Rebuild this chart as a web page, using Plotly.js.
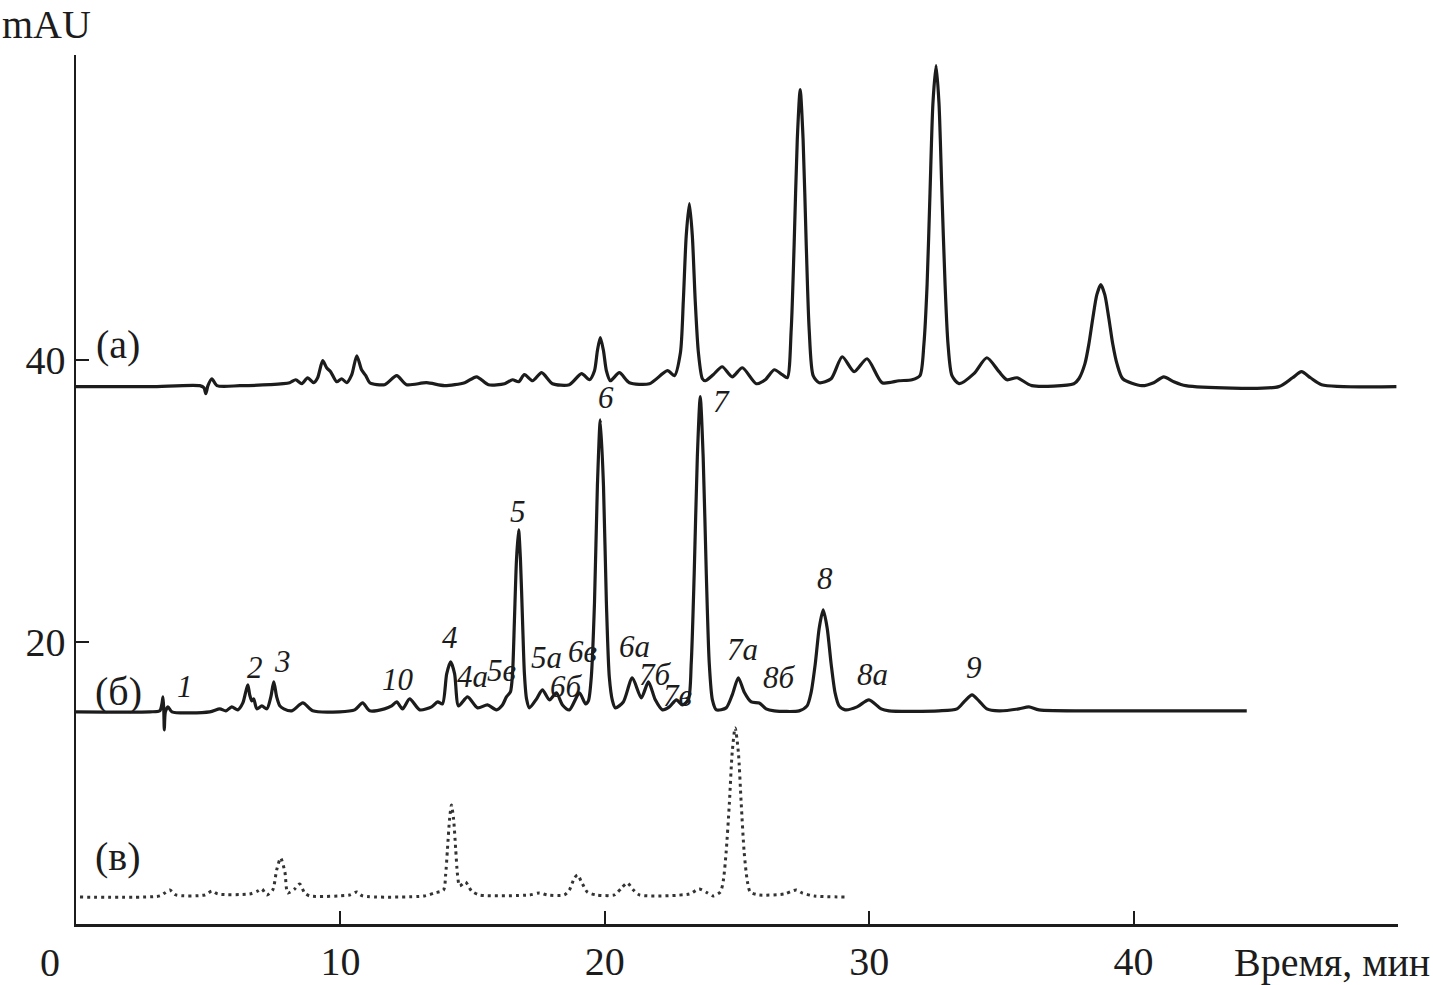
<!DOCTYPE html>
<html>
<head>
<meta charset="utf-8">
<script src="https://cdn.plot.ly/plotly-3.0.1.min.js"></script>
<style>html,body{margin:0;padding:0;background:#fff;}#chart{width:1433px;height:985px;}</style>
</head>
<body>
<div id="chart"></div>
<script>
// Chromatogram (а)
const timeA = [0,2.80,4.68,4.84,4.91,4.99,5.14,5.33,6.20,7.33,8.08,8.31,8.54,8.76,8.99,9.14,9.33,9.48,9.63,9.86,10.05,10.24,10.43,10.62,10.80,10.96,11.11,11.67,12.13,12.50,13.26,13.94,14.70,15.15,15.60,16.21,16.51,16.74,16.96,17.27,17.61,18.02,18.66,19.12,19.42,19.61,19.72,19.83,19.95,20.06,20.21,20.55,20.93,21.69,22.37,22.63,22.86,22.97,23.08,23.20,23.31,23.42,23.54,23.69,23.80,24.10,24.44,24.82,25.20,25.73,26.07,26.41,26.71,26.90,27.05,27.16,27.28,27.39,27.50,27.62,27.73,27.88,28.11,28.56,28.98,29.43,29.92,30.49,31.13,31.62,31.92,32.07,32.19,32.30,32.41,32.53,32.64,32.75,32.87,32.98,33.13,33.40,33.96,34.45,34.91,35.21,35.59,36.15,37.74,37.93,38.16,38.31,38.46,38.61,38.76,38.91,39.06,39.21,39.37,39.59,40.31,40.76,41.14,41.52,41.97,45.49,46.01,46.35,46.69,47.11,49.94];
const mauA  = [38.09,38.09,38.16,38.01,37.59,38.16,38.65,38.16,38.16,38.23,38.37,38.58,38.30,38.72,38.37,38.72,39.93,39.43,39.15,38.44,38.65,38.37,38.94,40.28,39.29,38.87,38.37,38.23,38.87,38.23,38.37,38.16,38.37,38.79,38.23,38.30,38.58,38.44,38.94,38.51,39.08,38.30,38.23,39.01,38.58,39.22,40.64,41.56,40.64,39.22,38.51,39.08,38.37,38.30,39.22,38.87,40.50,44.18,48.79,51.06,48.79,44.18,40.50,38.65,38.51,38.94,39.50,38.79,39.43,38.30,38.58,39.29,38.94,38.72,42.13,48.09,55.60,59.15,55.60,48.09,42.13,38.87,38.37,38.65,40.21,39.15,40.07,38.37,38.51,38.58,38.87,41.13,45.32,51.84,58.16,60.85,58.16,51.84,45.32,41.13,38.87,38.30,39.01,40.14,39.15,38.58,38.72,38.16,38.30,38.65,39.72,41.13,42.98,44.61,45.32,44.61,42.98,41.13,39.72,38.65,38.16,38.37,38.79,38.44,38.16,38.09,38.72,39.15,38.72,38.23,38.09];

// Chromatogram (б)
const timeB = [0,2.80,3.17,3.25,3.29,3.32,3.34,3.38,3.48,3.63,5.06,5.44,5.67,5.89,6.12,6.31,6.42,6.50,6.57,6.65,6.72,6.84,7.03,7.22,7.37,7.48,7.59,7.71,7.86,8.16,8.58,8.95,9.97,10.54,10.84,11.11,11.67,11.94,12.13,12.35,12.62,13.00,13.45,13.68,13.86,14.02,14.17,14.32,14.47,14.81,15.19,15.56,15.90,16.13,16.28,16.43,16.51,16.58,16.66,16.74,16.81,16.89,16.96,17.04,17.15,17.42,17.64,17.91,18.17,18.40,18.66,19.04,19.27,19.38,19.49,19.61,19.72,19.83,19.95,20.06,20.17,20.29,20.40,20.70,21.04,21.38,21.65,21.91,22.18,22.44,22.71,22.93,23.16,23.27,23.38,23.50,23.61,23.72,23.84,23.95,24.07,24.22,24.59,24.82,25.05,25.27,25.54,25.84,26.10,26.41,27.35,27.65,27.80,27.96,28.11,28.26,28.41,28.56,28.71,28.86,29.09,29.54,29.99,30.45,30.75,32.64,33.32,33.62,33.89,34.15,34.45,34.91,35.66,36.04,36.42,38.69,44.28];
const mauB  = [15.04,15.04,15.11,15.60,16.10,15.18,13.76,15.04,15.39,15.04,15.04,15.25,15.11,15.39,15.18,15.67,16.45,16.95,16.24,15.82,15.96,15.25,15.46,15.25,16.10,17.16,16.10,15.46,15.25,15.11,15.67,15.11,15.04,15.18,15.67,15.11,15.25,15.46,15.74,15.25,15.96,15.18,15.39,15.74,15.60,17.73,18.58,17.73,15.46,16.10,15.32,15.53,15.18,15.53,16.10,16.45,17.73,21.42,25.82,27.94,25.82,21.42,17.73,15.96,15.32,15.96,16.60,15.89,16.38,15.53,15.18,16.38,15.60,15.82,17.52,22.77,31.06,35.74,31.06,22.77,17.52,15.82,15.32,15.74,17.45,16.03,17.16,15.89,15.18,15.39,15.89,15.53,15.89,18.51,24.75,33.12,37.38,33.12,24.75,18.51,15.89,15.18,15.32,16.24,17.45,16.45,15.74,15.67,15.25,15.11,15.11,15.46,16.38,18.44,20.99,22.27,20.99,18.44,16.38,15.46,15.18,15.39,15.89,15.25,15.11,15.11,15.25,15.82,16.24,15.82,15.25,15.11,15.25,15.39,15.18,15.11,15.11];

// Chromatogram (в)
const timeC = [0.15,3.17,3.36,3.55,3.78,4.87,5.14,5.36,6.57,6.88,7.03,7.22,7.44,7.59,7.74,7.90,8.01,8.27,8.46,8.65,8.84,10.35,10.62,10.84,13.18,13.56,13.90,13.98,14.05,14.13,14.20,14.28,14.36,14.43,14.51,14.73,14.96,15.26,17.15,17.53,17.83,18.47,18.66,18.85,18.97,19.12,19.34,19.68,20.36,20.63,20.85,21.08,21.31,23.20,23.57,23.88,24.10,24.37,24.48,24.59,24.71,24.82,24.93,25.05,25.16,25.27,25.39,25.50,25.84,26.79,27.24,27.46,27.92,29.13];
const mauC  = [1.91,1.99,2.20,2.41,2.06,2.06,2.34,2.13,2.13,2.34,2.48,2.06,2.41,3.83,4.68,3.69,2.20,2.48,2.84,2.20,1.99,2.06,2.27,1.99,1.99,2.20,2.41,3.48,5.32,7.45,8.44,7.45,5.32,3.48,2.70,2.98,2.34,2.06,2.06,2.20,2.06,2.06,2.41,3.26,3.48,2.98,2.27,2.06,2.06,2.55,2.91,2.41,2.06,2.13,2.48,2.20,1.99,2.27,3.05,5.11,8.51,12.20,13.90,12.20,8.51,5.11,3.05,2.27,2.06,2.13,2.41,2.20,1.99,1.91];

// Peak labels
const peakLabelTexts  = ["1","2","3","10","4","4а","5в","5","5а","6в","6б","6","6а","7б","7в","7","7а","8б","8","8а","9"];
const peakLabelTimes  = [4.12,6.76,7.82,12.16,14.13,15.00,16.09,16.70,17.79,19.15,18.55,20.06,21.12,21.91,22.74,24.40,25.20,26.60,28.33,30.11,33.96];
const peakLabelValues = [16.81,18.16,18.58,17.30,20.28,17.52,17.94,29.22,18.92,19.29,16.85,37.30,19.67,17.70,16.17,37.02,19.43,17.45,24.47,17.66,18.16];

// Trace labels
const traceLabelTexts  = ["(а)","(б)","(в)"];
const traceLabelTimes  = [1.59,1.59,1.59];
const traceLabelValues = [41.06,16.45,4.75];

const xTickVals = [10,20,30,40];
const yTickVals = [20,40];

const serif = "'Liberation Serif', 'DejaVu Serif', serif";
const ink = "#1c1c1c";

const traces = [
  {x: timeA, y: mauA, mode: "lines", line: {color: ink, width: 3.2, shape: "spline", smoothing: 0.7}, hoverinfo: "skip"},
  {x: timeB, y: mauB, mode: "lines", line: {color: ink, width: 3.2, shape: "spline", smoothing: 0.7}, hoverinfo: "skip"},
  {x: timeC, y: mauC, mode: "lines", line: {color: "#333", width: 3, dash: "3px,4px", shape: "spline", smoothing: 0.7}, hoverinfo: "skip"}
];

const annotations = [];
peakLabelTexts.forEach((t, i) => annotations.push({
  x: peakLabelTimes[i], y: peakLabelValues[i], xref: "x", yref: "y",
  text: "<i>" + t + "</i>", showarrow: false, xanchor: "center", yanchor: "middle",
  font: {family: serif, size: 31, color: ink}
}));
traceLabelTexts.forEach((t, i) => annotations.push({
  x: traceLabelTimes[i], y: traceLabelValues[i], xref: "x", yref: "y",
  text: t, showarrow: false, xanchor: "center", yanchor: "middle",
  font: {family: serif, size: 40, color: ink}
}));
annotations.push({x: -0.022, y: 1.035, xref: "paper", yref: "paper", text: "mAU", showarrow: false,
  xanchor: "center", yanchor: "middle", font: {family: serif, size: 40, color: ink}});
annotations.push({x: 1.026, y: -0.044, xref: "paper", yref: "paper", text: "Время, мин", showarrow: false,
  xanchor: "right", yanchor: "middle", font: {family: serif, size: 40, color: ink}});
annotations.push({x: -0.0197, y: -0.044, xref: "paper", yref: "paper", text: "0", showarrow: false,
  xanchor: "center", yanchor: "middle", font: {family: serif, size: 40, color: ink}});

const layout = {
  width: 1433, height: 985,
  margin: {l: 76, r: 35, t: 55, b: 61},
  paper_bgcolor: "#fff", plot_bgcolor: "#fff",
  showlegend: false,
  xaxis: {
    range: [0, 50], tickvals: xTickVals, ticktext: xTickVals.map(String),
    ticks: "inside", ticklen: 13, tickwidth: 2, tickcolor: ink,
    showline: true, linecolor: ink, linewidth: 3,
    showgrid: false, zeroline: false,
    tickfont: {family: serif, size: 40, color: ink},
    ticklabelstandoff: 0
  },
  yaxis: {
    range: [0, 61.6], tickvals: yTickVals, ticktext: yTickVals.map(String),
    ticks: "inside", ticklen: 13, tickwidth: 2, tickcolor: ink,
    showline: true, linecolor: ink, linewidth: 2.5,
    showgrid: false, zeroline: false,
    tickfont: {family: serif, size: 40, color: ink},
    ticklabelstandoff: 0
  },
  annotations: annotations
};

Plotly.newPlot("chart", traces, layout, {displayModeBar: false, staticPlot: true});
</script>
</body>
</html>
